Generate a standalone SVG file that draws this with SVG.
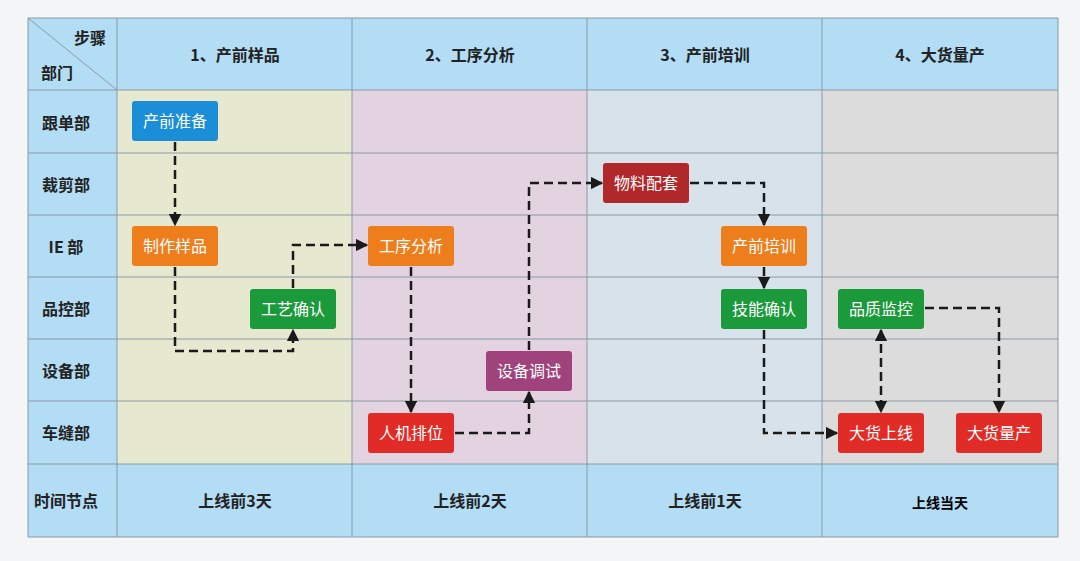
<svg xmlns="http://www.w3.org/2000/svg" width="1080" height="561" viewBox="0 0 1080 561">
<style>
.h{font-family:"Noto Sans CJK SC","Liberation Sans",sans-serif;font-weight:bold;font-size:16px;fill:#222;text-anchor:middle;dominant-baseline:central}
.l{font-family:"Noto Sans CJK SC",sans-serif;font-size:16px;fill:#fff;text-anchor:middle;dominant-baseline:central}
.c{fill:none;stroke:#1a1a1a;stroke-width:2.5;stroke-dasharray:9,5}
.g{stroke:#8a9aa6;stroke-width:1;fill:none}
</style>
<defs><marker id="a" viewBox="0 0 10 10" refX="9" refY="5" markerWidth="5" markerHeight="5" orient="auto-start-reverse"><path d="M0,0L10,5L0,10z" fill="#1a1a1a"/></marker></defs>
<rect width="1080" height="561" fill="#f3f5f7"/>
<g id="table">
<rect x="28" y="18" width="1030" height="519" fill="#b3dcf5"/>
<rect x="117" y="90" width="235" height="374" fill="#e6e9cf"/>
<rect x="352" y="90" width="235" height="374" fill="#e3d3e1"/>
<rect x="587" y="90" width="235" height="374" fill="#d7e2ea"/>
<rect x="822" y="90" width="236" height="374" fill="#dcdcdc"/>
<path class="g" d="M28,18H1058V537H28Z M117,18V537 M352,18V537 M587,18V537 M822,18V537 M28,90H1058 M28,153H1058 M28,215H1058 M28,277H1058 M28,339H1058 M28,401H1058 M28,464H1058 M28,18L117,90"/>
<text class="h" x="90" y="37">步骤</text><text class="h" x="57" y="72">部门</text>
<text class="h" x="235" y="54">1、产前样品</text><text class="h" x="470" y="54">2、工序分析</text>
<text class="h" x="705" y="54">3、产前培训</text><text class="h" x="940" y="54">4、大货量产</text>
<text class="h" x="66" y="122">跟单部</text><text class="h" x="66" y="184">裁剪部</text>
<text class="h" x="66" y="246">IE 部</text><text class="h" x="66" y="308">品控部</text>
<text class="h" x="66" y="370">设备部</text><text class="h" x="66" y="432">车缝部</text>
<text class="h" x="66" y="500">时间节点</text>
<text class="h" x="235" y="500">上线前3天</text><text class="h" x="470" y="500">上线前2天</text>
<text class="h" x="705" y="500">上线前1天</text><text class="h" x="940" y="502" style="font-size:14px;fill:#000">上线当天</text>
</g>
<g id="connectors">
<path class="c" marker-end="url(#a)" d="M175,142V225"/>
<path class="c" marker-end="url(#a)" d="M175,267V351H293V330"/>
<path class="c" marker-end="url(#a)" d="M293,288V245H367"/>
<path class="c" marker-end="url(#a)" d="M411,267V412"/>
<path class="c" marker-end="url(#a)" d="M455,433H529V392"/>
<path class="c" marker-end="url(#a)" d="M529,350V183H602"/>
<path class="c" marker-end="url(#a)" d="M690,183H764V225"/>
<path class="c" marker-end="url(#a)" d="M764,267V288"/>
<path class="c" marker-end="url(#a)" d="M764,330V433H837"/>
<path class="c" marker-start="url(#a)" marker-end="url(#a)" d="M881,330V412"/>
<path class="c" marker-end="url(#a)" d="M925,308H999V412"/>
</g>
<g id="n1"><rect x="132" y="101" width="86" height="40" rx="3" fill="#1a8fd8"/><text class="l" x="175" y="120">产前准备</text></g>
<g id="n2"><rect x="132" y="226" width="86" height="40" rx="3" fill="#ee7d1c"/><text class="l" x="175" y="245">制作样品</text></g>
<g id="n3"><rect x="250" y="289" width="86" height="40" rx="3" fill="#1b9a3c"/><text class="l" x="293" y="308">工艺确认</text></g>
<g id="n4"><rect x="368" y="226" width="86" height="40" rx="3" fill="#ee7d1c"/><text class="l" x="411" y="245">工序分析</text></g>
<g id="n5"><rect x="368" y="413" width="86" height="40" rx="3" fill="#e12b26"/><text class="l" x="411" y="432">人机排位</text></g>
<g id="n6"><rect x="486" y="351" width="86" height="40" rx="3" fill="#a0437c"/><text class="l" x="529" y="370">设备调试</text></g>
<g id="n7"><rect x="603" y="163" width="86" height="40" rx="3" fill="#b0282a"/><text class="l" x="646" y="182">物料配套</text></g>
<g id="n8"><rect x="721" y="226" width="86" height="40" rx="3" fill="#ee7d1c"/><text class="l" x="764" y="245">产前培训</text></g>
<g id="n9"><rect x="721" y="289" width="86" height="40" rx="3" fill="#1b9a3c"/><text class="l" x="764" y="308">技能确认</text></g>
<g id="n10"><rect x="838" y="289" width="86" height="40" rx="3" fill="#1b9a3c"/><text class="l" x="881" y="308">品质监控</text></g>
<g id="n11"><rect x="838" y="413" width="86" height="40" rx="3" fill="#e12b26"/><text class="l" x="881" y="432">大货上线</text></g>
<g id="n12"><rect x="956" y="413" width="86" height="40" rx="3" fill="#e12b26"/><text class="l" x="999" y="432">大货量产</text></g>
</svg>
